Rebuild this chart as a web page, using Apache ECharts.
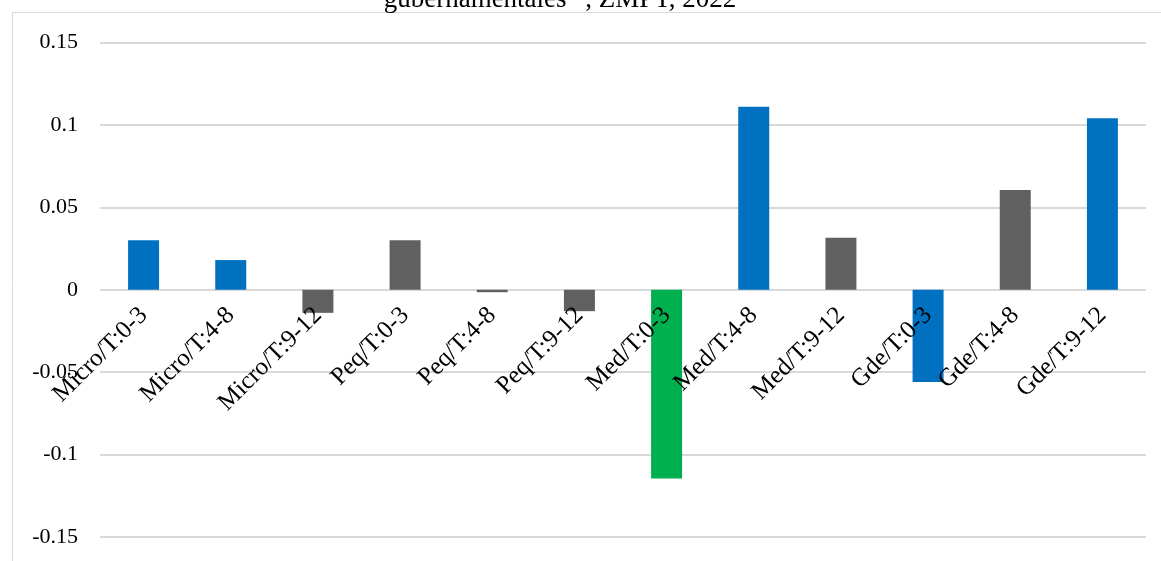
<!DOCTYPE html>
<html>
<head>
<meta charset="utf-8">
<script src="https://cdn.jsdelivr.net/npm/echarts@6/dist/echarts.min.js"></script>
<style>
  html, body { margin: 0; padding: 0; background: #fff; }
  #chart { width: 1161px; height: 561px; }
</style>
</head>
<body>
<div id="chart"></div>
<script>
const categories = [
  'Micro/T:0-3', 'Micro/T:4-8', 'Micro/T:9-12',
  'Peq/T:0-3', 'Peq/T:4-8', 'Peq/T:9-12',
  'Med/T:0-3', 'Med/T:4-8', 'Med/T:9-12',
  'Gde/T:0-3', 'Gde/T:4-8', 'Gde/T:9-12'
];
const values = [0.030, 0.018, -0.014, 0.030, -0.0015, -0.013, -0.1145, 0.111, 0.0315, -0.056, 0.0605, 0.104];
// colour group of each bar: b = blue, g = grey, v = green
const colorKeys = ['b', 'b', 'g', 'g', 'g', 'g', 'v', 'b', 'g', 'b', 'g', 'b'];
const titleText = 'gubernamentales” , ZMPT, 2022';

const palette = { b: '#0070C0', g: '#606060', v: '#00B050' };
const font = '"Liberation Serif", "Times New Roman", serif';

const chart = echarts.init(document.getElementById('chart'));

chart.setOption({
  animation: false,
  backgroundColor: '#ffffff',
  title: {
    text: titleText,
    left: 555,
    top: -19,
    textAlign: 'center',
    textStyle: { fontFamily: font, fontSize: 27, fontWeight: 'normal', color: '#000' }
  },
  graphic: [
    { type: 'line', shape: { x1: 12, y1: 12.5, x2: 1161, y2: 12.5 }, style: { stroke: '#d9d9d9', lineWidth: 1 } },
    { type: 'line', shape: { x1: 12.5, y1: 12, x2: 12.5, y2: 561 }, style: { stroke: '#d9d9d9', lineWidth: 1 } }
  ],
  grid: { left: 100, right: 15, top: 42.5, bottom: 24, containLabel: false, outerBoundsMode: 'none' },
  xAxis: {
    type: 'category',
    data: categories,
    position: 'bottom',
    offset: -247.5,
    z: 5,
    axisLine: { show: false, onZero: false },
    axisTick: { show: false },
    axisLabel: {
      rotate: 45,
      interval: 0,
      margin: 22,
      fontFamily: font,
      fontSize: 25,
      color: '#000',
      hideOverlap: false
    }
  },
  yAxis: {
    type: 'value',
    min: -0.15,
    max: 0.15,
    interval: 0.05,
    axisLine: { show: false },
    axisTick: { show: false },
    axisLabel: {
      margin: 22,
      fontFamily: font,
      fontSize: 22,
      color: '#000',
      formatter: v => String(Math.round(v * 100) / 100)
    },
    splitLine: { lineStyle: { color: '#d9d9d9', width: 2 } }
  },
  series: [{
    type: 'bar',
    barWidth: 31,
    z: 1,
    data: values.map((v, i) => ({ value: v, itemStyle: { color: palette[colorKeys[i]] } }))
  }]
});
</script>
</body>
</html>
